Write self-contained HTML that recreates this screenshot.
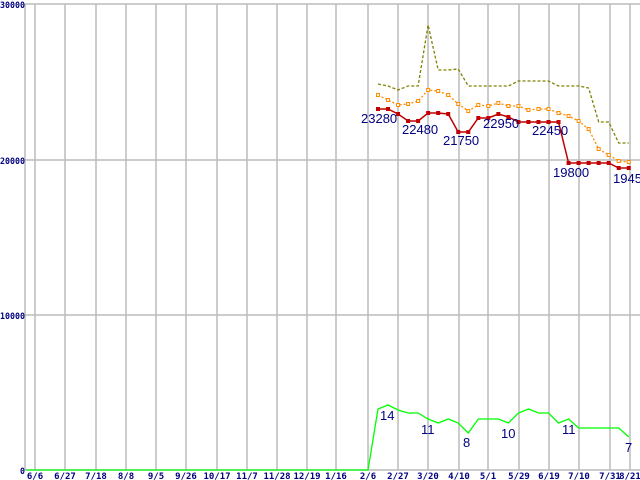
<!DOCTYPE html>
<html><head><meta charset="utf-8"><style>
html,body{margin:0;padding:0;background:#fff;overflow:hidden}
svg{display:block}
.t{font-family:"DejaVu Sans Mono","Liberation Mono",monospace;font-size:9px;font-weight:bold;fill:#000080}
.v{font-family:"Liberation Sans",sans-serif;font-size:13px;fill:#000080}
</style></head><body>
<svg id="s" width="640" height="480" xmlns="http://www.w3.org/2000/svg">
<g id="grid" stroke="#bbb" stroke-width="1.5" fill="none"></g>
<g id="ser"></g>
<g id="lab"></g>
</svg>
<script>
const NS="http://www.w3.org/2000/svg";
function el(p,n,a,t){const e=document.createElementNS(NS,n);for(const k in a)e.setAttribute(k,a[k]);if(t!=null)e.textContent=t;document.getElementById(p).appendChild(e);return e;}
const xs=[35,65,96,126,156,186,217,247,277,307,336,368,398,428,459,488,519,549,579,610,630];
const ds=["6/6","6/27","7/18","8/8","9/5","9/26","10/17","11/7","11/28","12/19","1/16","2/6","2/27","3/20","4/10","5/1","5/29","6/19","7/10","7/31","8/21"];
xs.forEach(x=>el("grid","line",{x1:x,y1:4,x2:x,y2:470}));
[4,160,315,470].forEach(y=>el("grid","line",{x1:25,y1:y,x2:640,y2:y}));
el("grid","line",{x1:25,y1:4,x2:25,y2:470});
xs.forEach((x,i)=>el("lab","text",{x:x,y:479,"text-anchor":"middle",class:"t"},ds[i]));
[["30000",8,25],["20000",164,25],["10000",319,25],["0",474,5]].forEach(a=>el("lab","text",{x:25-a[2],y:a[1],class:"t",textLength:a[2],lengthAdjust:"spacingAndGlyphs"},a[0]));
const X=i=>378+10.03*i;
const red=[109,109,114,121,121,113,113,114,132,132,118,118,114,117,122,122,122,122,122,163,163,163,163,163,168,168];
const org=[95,100,105,104,101,90,91,95,104,111,105,106,103,106,106,110,109,109,113,116,121,129,149,155,161,162];
const olv=[84,86,90,86,86,25,70,70,69,86,86,86,86,86,81,81,81,81,86,86,86,88,122,122,143,143];
const pts=a=>a.map((y,i)=>X(i).toFixed(1)+","+y).join(" ");
el("ser","polyline",{points:pts(olv),fill:"none",stroke:"#808000","stroke-width":1.3,"stroke-dasharray":"3,2"});
el("ser","polyline",{points:pts(org),fill:"none",stroke:"#ff8c00","stroke-width":1.3,"stroke-dasharray":"2,2"});
org.forEach((y,i)=>el("ser","rect",{x:X(i)-1.5,y:y-1.5,width:3,height:3,fill:"#fff",stroke:"#ff8c00","stroke-width":1}));
el("ser","polyline",{points:pts(red),fill:"none",stroke:"#c00000","stroke-width":1.5});
red.forEach((y,i)=>el("ser","rect",{x:X(i)-2,y:y-2,width:4,height:4,fill:"#c00000"}));
const grn=[409,405,410,413,413,419,423,419,423,433,419,419,419,423,413,409,413,413,423,419,428,428,428,428,428,437];
el("ser","polyline",{points:"26,470 368,470 "+pts(grn),fill:"none",stroke:"#00ff00","stroke-width":1.3});
[["23280",361,123],["22480",402,134],["21750",443,145],["22950",483,128],["22450",532,135],["19800",553,177],["19450",613,183],
 ["14",380,420],["11",421,434],["8",463,447],["10",501,438],["11",562,434],["7",625,452]].forEach(a=>el("lab","text",{x:a[1],y:a[2],class:"v"},a[0]));
</script>
</body></html>
